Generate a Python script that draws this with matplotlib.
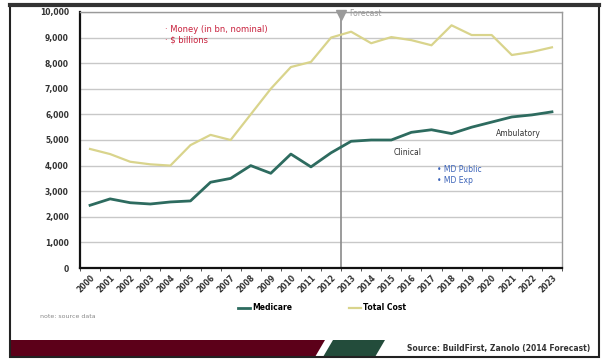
import matplotlib
matplotlib.use("Agg")
import matplotlib.pyplot as plt
from matplotlib.lines import Line2D
from matplotlib.patches import Polygon, Rectangle
from matplotlib.ticker import FuncFormatter, FixedLocator

# spending series, 2000-2023 (forecast from 2013)
years = [str(y) for y in range(2000, 2024)]
medicare = [2450, 2700, 2550, 2500, 2580, 2620, 3350, 3500, 4000, 3700, 4450, 3950,
            4500, 4950, 5000, 5000, 5300, 5400, 5250, 5500, 5700, 5900, 5980, 6100]
total_cost = [4650, 4450, 4150, 4050, 4000, 4800, 5200, 5000, 6000, 7000, 7850, 8050,
              9000, 9230, 8780, 9020, 8900, 8700, 9480, 9100, 9100, 8320, 8440, 8620]
y_ticks = list(range(0, 10001, 1000))
forecast_start = 12.5

TEAL = "#2d6b5f"
KHAKI = "#d9d48c"
W, H = 608, 359

fig = plt.figure(figsize=(W / 100, H / 100), dpi=100)
fig.patch.set_facecolor("white")


def fx(px):
    return px / W


def fy(py):
    return 1 - py / H


ax = fig.add_axes([fx(80), fy(268), fx(562) - fx(80), fy(12) - fy(268)])
x = list(range(len(years)))

ax.plot(x, total_cost, color=KHAKI, lw=1.6, zorder=3)
ax.plot(x, medicare, color=TEAL, lw=2.0, zorder=3)

ax.set_xlim(-0.5, len(years) - 0.5)
ax.set_ylim(0, 10000)
ax.yaxis.set_major_locator(FixedLocator(y_ticks))
ax.yaxis.set_major_formatter(FuncFormatter(lambda v, _: f"{int(v):,}"))
ax.grid(axis="y", color="#c8c8c8", lw=1.0)
ax.set_axisbelow(True)

ax.set_xticks(x)
ax.set_xticklabels(years, rotation=45, ha="right", rotation_mode="anchor",
                   fontsize=5.5, fontweight="bold", color="#333333")
ax.tick_params(axis="x", length=0, pad=4)
ax.set_xticks([i - 0.5 for i in range(len(years) + 1)], minor=True)
ax.tick_params(axis="x", which="minor", length=2, color="#333333")
ax.tick_params(axis="y", length=0, labelsize=5.5, labelcolor="#333333", pad=8)
for lbl in ax.get_yticklabels():
    lbl.set_fontweight("bold")

for side in ("left", "bottom"):
    ax.spines[side].set_color("#111111")
    ax.spines[side].set_linewidth(1.6)
for side in ("top", "right"):
    ax.spines[side].set_color("#9a9a9a")
    ax.spines[side].set_linewidth(1.0)

# forecast divider
ax.axvline(forecast_start, color="#8a8a8a", lw=1.2, zorder=2)
ax.plot([forecast_start], [9900], marker="v", ms=7, color="#9a9a9a",
        clip_on=False, zorder=4)
ax.text(forecast_start + 0.4, 9950, "Forecast", fontsize=5.5, color="#9a9a9a",
        va="center")

# annotations
ax.text(3.75, 9100, "· Money (in bn, nominal)\n· $ billions", fontsize=6,
        color="#c8203c", va="center", linespacing=1.2)
ax.text(20.2, 5270, "Ambulatory", fontsize=5.5, color="#333333", va="center")
ax.text(15.1, 4530, "Clinical", fontsize=5.5, color="#333333", va="center")
ax.text(17.3, 3830, "• MD Public", fontsize=5.5, color="#3a62b8", va="center")
ax.text(17.3, 3400, "• MD Exp", fontsize=5.5, color="#3a62b8", va="center")

# legend below the axis
handles = [Line2D([], [], color=TEAL, lw=2.0), Line2D([], [], color=KHAKI, lw=1.6)]
fig.legend(handles, ["Medicare", "Total Cost"], loc="center",
           bbox_to_anchor=(fx(322), fy(308)), ncol=2, frameon=False,
           prop={"size": 5.5, "weight": "bold"}, handlelength=1.6,
           handletextpad=0.2, columnspacing=7.5)

fig.text(fx(40), fy(316), "note: source data", fontsize=4.5, color="#888888",
         va="center")

# footer band
fig.patches.append(Polygon([(fx(11), fy(357)), (fx(11), fy(340)), (fx(325), fy(340)),
                            (fx(315), fy(357))], closed=True, facecolor="#5c0019",
                           edgecolor="none", transform=fig.transFigure))
fig.patches.append(Polygon([(fx(333), fy(340)), (fx(385), fy(340)), (fx(375), fy(357)),
                            (fx(323), fy(357))], closed=True, facecolor="#234c3b",
                           edgecolor="none", transform=fig.transFigure))
fig.text(fx(590), fy(348.5), "Source: BuildFirst, Zanolo (2014 Forecast)",
         fontsize=5.5, fontweight="bold", color="#333333", ha="right", va="center")

# outer frame
fig.patches.append(Rectangle((fx(10), fy(357)), fx(599) - fx(10), fy(5) - fy(357),
                             fill=False, edgecolor="#222222", lw=1.5,
                             transform=fig.transFigure))
fig.add_artist(Line2D([fx(10), fx(599)], [fy(5), fy(5)], color="#333333", lw=3,
                      transform=fig.transFigure))

fig.savefig("out.png", dpi=100)
